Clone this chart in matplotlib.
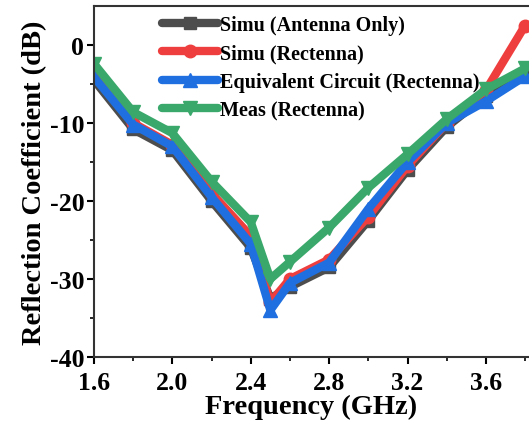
import numpy as np
import matplotlib.pyplot as plt

plt.rcParams['font.family'] = ['Liberation Serif', 'DejaVu Serif']
plt.rcParams['font.weight'] = 'bold'
plt.rcParams['axes.unicode_minus'] = False

freq = [1.6, 1.8, 2.0, 2.2, 2.4, 2.5, 2.6, 2.8, 3.0, 3.2, 3.4, 3.6, 3.8]
simu_ant = [-4.5, -10.8, -13.5, -20.0, -26.0, -32.5, -31.0, -28.5, -22.5, -16.0, -10.5, -6.5, -3.8]
simu_rect = [-3.8, -10.0, -12.8, -19.0, -24.5, -33.0, -30.0, -27.5, -22.0, -15.5, -10.0, -5.8, 2.5]
equiv = [-4.1, -10.2, -13.0, -19.5, -25.5, -34.0, -30.5, -27.9, -21.0, -15.0, -10.0, -7.2, -4.0]
meas = [-2.4, -8.6, -11.3, -17.5, -22.7, -30.0, -27.8, -23.4, -18.3, -14.0, -9.5, -5.7, -3.0]

fig = plt.figure(figsize=(5.29, 4.27), dpi=100)
ax = fig.add_axes([94/529, 69/427, (529-94)/529, (358-7)/427])

lw = 6
ax.plot(freq, simu_ant, color="#4d4d4d", marker='s', ms=9, lw=lw, label="Simu (Antenna Only)", solid_joinstyle='round', solid_capstyle='round')
ax.plot(freq, simu_rect, color="#ef3e3e", marker='o', ms=9, lw=lw, label="Simu (Rectenna)", solid_joinstyle='round', solid_capstyle='round')
ax.plot(freq, equiv, color="#1f6fe0", marker='^', ms=10, lw=lw, label="Equivalent Circuit (Rectenna)", solid_joinstyle='round', solid_capstyle='round')
ax.plot(freq, meas, color="#3aa86a", marker='v', ms=10, lw=lw, label="Meas (Rectenna)", solid_joinstyle='round', solid_capstyle='round')

ax.set_xlim(1.6, 3.82)
ax.set_ylim(-40, 5)
ax.set_xticks([1.6, 2.0, 2.4, 2.8, 3.2, 3.6])
ax.set_xticks(np.arange(1.8, 3.81, 0.4), minor=True)
ax.set_yticks([-40, -30, -20, -10, 0])
ax.set_yticks([-35, -25, -15, -5], minor=True)
ax.tick_params(axis='both', which='major', labelsize=18.5, length=5, width=1.5, direction='out', top=False, right=False)
ax.tick_params(axis='x', which='major', pad=5)
ax.tick_params(axis='y', which='major', pad=2)
ax.tick_params(axis='both', which='minor', length=3, width=1.2, direction='out', top=False, right=False)
for lab in ax.get_xticklabels() + ax.get_yticklabels():
    lab.set_fontweight('bold')
ax.spines['right'].set_visible(False)
for s in ['left', 'bottom', 'top']:
    ax.spines[s].set_linewidth(1.5)
    ax.spines[s].set_color('#333333')

ax.set_xlabel("Frequency (GHz)", fontsize=20.5, fontweight='bold', labelpad=0)
ax.set_ylabel("Reflection Coefficient (dB)", fontsize=20.5, fontweight='bold', labelpad=2)

leg = ax.legend(loc='upper left', bbox_to_anchor=(152/529, 1 - 6/427), bbox_transform=fig.transFigure,
                frameon=False, fontsize=14.5, handlelength=2.8, handletextpad=0.1,
                labelspacing=0.42, borderpad=0)
for t in leg.get_texts():
    t.set_fontweight('bold')

fig.savefig("out.png", dpi=100)
